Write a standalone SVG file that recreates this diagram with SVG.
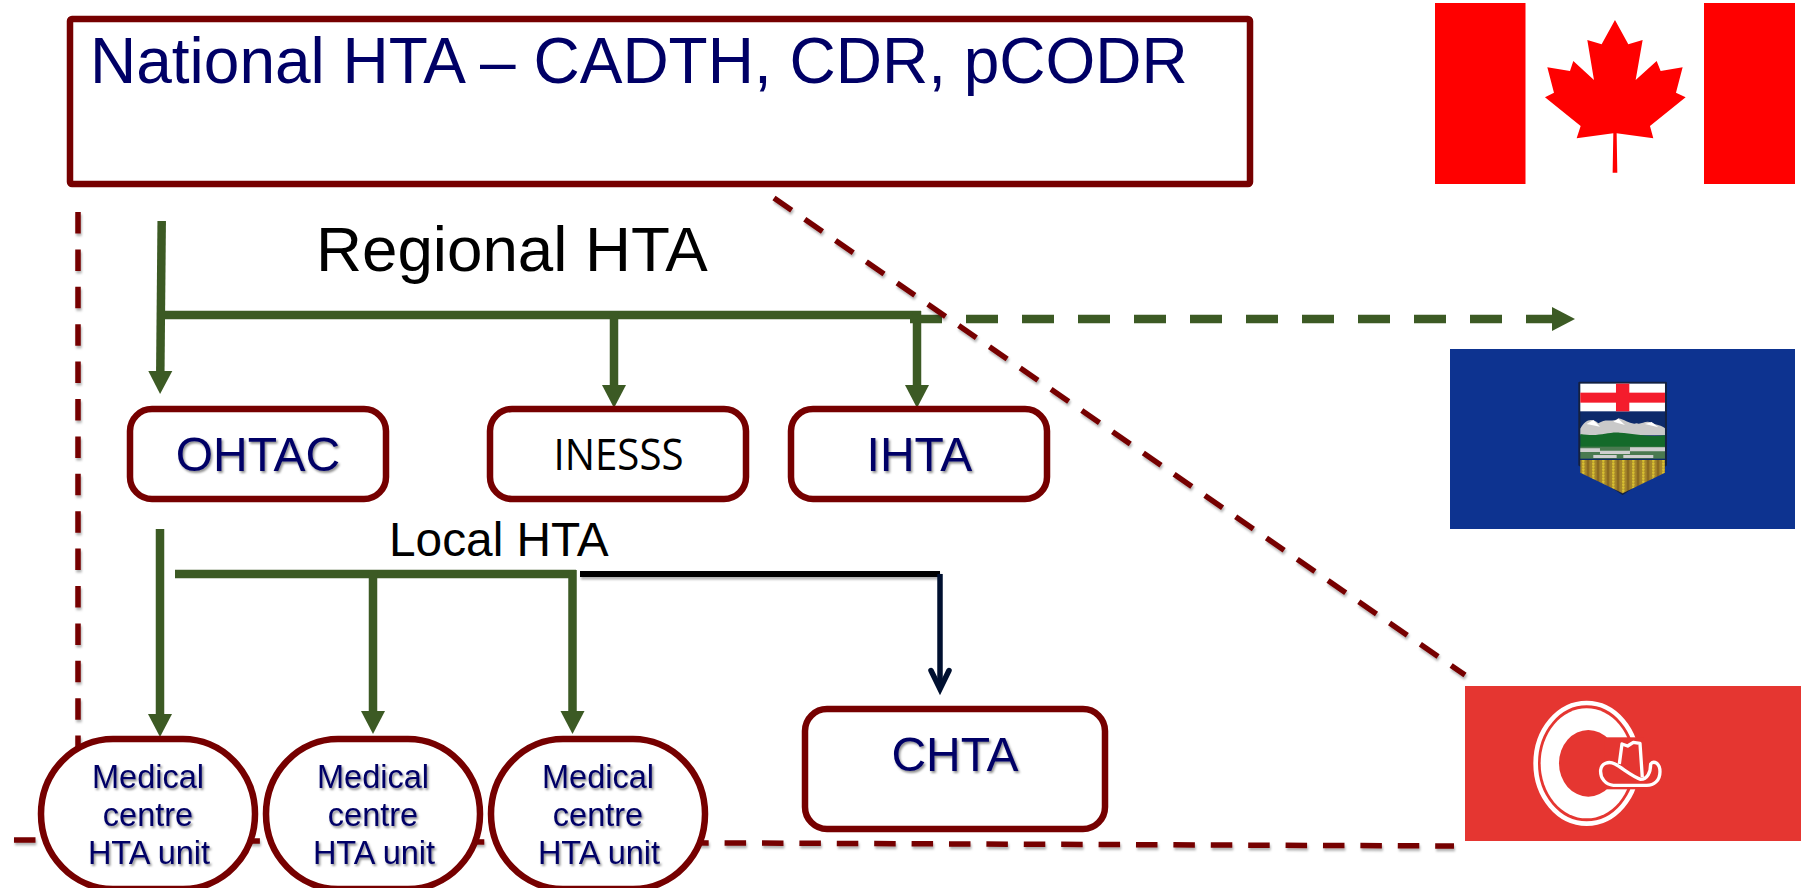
<svg xmlns="http://www.w3.org/2000/svg" width="1801" height="888" viewBox="0 0 1801 888">
  <style>
    text { font-family: "Liberation Sans", Arial, sans-serif; }
    .box { fill: #fff; stroke: #760000; stroke-width: 6.500; }
    .navy { fill: #000066; }
    .sh { filter: url(#textsoft); }
    .m { font-size: 32.500px; text-anchor: middle; }
    .b { font-size: 48px; text-anchor: middle; }
    .g { fill: none; stroke: #3c5a24; stroke-width: 8.500; }
    .d { fill: none; stroke: #760000; stroke-width: 5.500; stroke-dasharray: 21.5 15.9; filter: url(#soft); }
  </style>
  <defs>
    <filter id="soft" x="0" y="0" width="1801" height="888" filterUnits="userSpaceOnUse">
      <feDropShadow dx="1" dy="2.5" stdDeviation="1" flood-color="#000" flood-opacity="0.3"/>
    </filter>
    <filter id="textsoft" x="0" y="0" width="1801" height="888" filterUnits="userSpaceOnUse">
      <feDropShadow dx="1.500" dy="2" stdDeviation="1" flood-color="#000" flood-opacity="0.45"/>
    </filter>
    <marker id="gh" markerUnits="userSpaceOnUse" markerWidth="26" markerHeight="26" refX="1" refY="13" orient="auto">
      <path d="M1,1 L24,13 L1,25 Z" fill="#3c5a24"/>
    </marker>
    <pattern id="wheat" patternUnits="userSpaceOnUse" width="30" height="18">
      <rect width="30" height="18" fill="#a5862a"/>
      <circle cx="10" cy="5" r="4" fill="#d9c030"/>
      <circle cx="10" cy="14" r="4" fill="#d9c030"/>
      <rect x="20" width="8" height="18" fill="#8a6a20"/>
    </pattern>
  </defs>
  <rect width="1801" height="888" fill="#fff"/>

  <g id="connectors">
    <path class="g" d="M161.700,221 L160.300,371" marker-end="url(#gh)"/>
    <path class="g" d="M165,315 H921"/>
    <path class="g" d="M614,311 V385" marker-end="url(#gh)"/>
    <path class="g" d="M917,311 V385" marker-end="url(#gh)"/>
    <path class="g" d="M910,319 H1552" stroke-dasharray="32 24" marker-end="url(#gh)"/>
    <path class="g" d="M160,529 V714" marker-end="url(#gh)"/>
    <path class="g" d="M175,574 H576"/>
    <path class="g" d="M373,570 V711" marker-end="url(#gh)"/>
    <path class="g" d="M572.500,570 V711" marker-end="url(#gh)"/>
    <path d="M580,574 H940" fill="none" stroke="#000" stroke-width="6" filter="url(#soft)"/>
    <path d="M940,574 V688" fill="none" stroke="#001030" stroke-width="5.500"/>
    <path d="M931,670.500 L940,689 L949,670.500" fill="none" stroke="#001030" stroke-width="5.500" stroke-linecap="round"/>
    <path class="d" d="M78,212 V760"/>
    <path class="d" d="M774,198 L1465,675"/>
    <path class="d" d="M14,840 L1454,846"/>
  </g>

  <g id="national-hta">
    <rect class="box" x="70" y="19" width="1180" height="165" rx="2"/>
    <text class="navy" x="90" y="83" font-size="64">National HTA – CADTH, CDR, pCODR</text>
  </g>
  <g id="regional-hta-label"><text x="316" y="271" font-size="63.700" fill="#000">Regional HTA</text></g>
  <g id="local-hta-label"><text x="389" y="556" font-size="47.800" fill="#000">Local HTA</text></g>

  <g id="ohtac">
    <rect class="box" x="130" y="409" width="256" height="90" rx="22"/>
    <text class="navy b sh" x="258" y="471">OHTAC</text>
  </g>
  <g id="inesss">
    <rect class="box" x="490" y="409" width="256" height="90" rx="22"/>
    <text x="618.500" y="470" font-size="44" text-anchor="middle" fill="#000" style="font-family:'Open Sans','Noto Sans',sans-serif" textLength="130" lengthAdjust="spacingAndGlyphs">INESSS</text>
  </g>
  <g id="ihta">
    <rect class="box" x="791" y="409" width="256" height="90" rx="22"/>
    <text class="navy b sh" x="919.500" y="471">IHTA</text>
  </g>
  <g id="chta">
    <rect class="box" x="805" y="709" width="300" height="120" rx="22"/>
    <text class="navy b sh" x="955" y="771">CHTA</text>
  </g>

  <g id="unit-1">
    <rect class="box" x="41" y="739" width="214" height="150" rx="72" ry="75"/>
    <g class="navy m sh"><text x="148" y="788">Medical</text><text x="148" y="826">centre</text><text x="149" y="864">HTA unit</text></g>
  </g>
  <g id="unit-2">
    <rect class="box" x="266" y="739" width="214" height="150" rx="72" ry="75"/>
    <g class="navy m sh"><text x="373" y="788">Medical</text><text x="373" y="826">centre</text><text x="374" y="864">HTA unit</text></g>
  </g>
  <g id="unit-3">
    <rect class="box" x="491" y="739" width="214" height="150" rx="72" ry="75"/>
    <g class="navy m sh"><text x="598" y="788">Medical</text><text x="598" y="826">centre</text><text x="599" y="864">HTA unit</text></g>
  </g>

  <g id="flag-canada">
    <rect x="1435" y="3" width="90.500" height="181" fill="#ff0000"/>
    <rect x="1704" y="3" width="91" height="181" fill="#ff0000"/>
    <path transform="translate(1400,0) scale(0.3333)" fill="#ff0000" d="M645,60 L685,133 L728,120 L707,240 L770,183 L782,213 L848,202 L828,278 L857,292 L750,378 L760,415 L650,400 L652,518 L638,518 L640,400 L530,415 L542,378 L435,292 L462,278 L442,202 L510,213 L520,183 L582,240 L562,120 L605,133 Z"/>
  </g>

  <g id="flag-alberta">
    <rect x="1450" y="349" width="345" height="180" fill="#0d3390"/>
    <g transform="translate(1400,330) scale(0.3333)">
      <path d="M538,158 H798 V405 L668,492 L538,405 Z" fill="#0d2a6a" stroke="#14213f" stroke-width="6" stroke-linejoin="round"/>
      <rect x="541" y="161" width="254" height="83" fill="#fff"/>
      <rect x="541" y="188" width="254" height="30" fill="#f41c2c"/>
      <rect x="648" y="161" width="40" height="83" fill="#f41c2c"/>
      <path d="M541,296 C555,270 575,262 595,280 C620,262 640,280 655,265 C675,268 690,285 710,280 C725,285 735,270 755,278 C770,285 785,285 795,295 V316 H541 Z" fill="#c9c9c9"/>
      <path d="M560,282 L580,270 L600,290 Z M640,275 L655,266 L675,285 Z M735,282 L755,276 L775,292 Z" fill="#fff"/>
      <path d="M541,312 C600,322 620,305 660,308 C700,310 740,322 795,316 V352 H541 Z" fill="#146a2a"/>
      <rect x="541" y="350" width="254" height="36" fill="#4a7a50"/>
      <path d="M541,355 H600 V366 H541 Z M600,362 H690 V372 H600 Z M690,352 H795 V364 H690 Z M580,375 H650 V384 H580 Z M670,375 H760 V384 H670 Z" fill="#cfcfcf"/>
      <path d="M541,390 H795 V428 L668,490 L541,428 Z" fill="url(#wheat)"/>
    </g>
  </g>

  <g id="flag-calgary">
    <rect x="1465" y="686" width="336" height="155" fill="#e53631"/>
    <g transform="translate(1440,660) scale(0.3333)">
      <ellipse cx="440" cy="310" rx="153" ry="181" fill="none" stroke="#fff" stroke-width="14"/>
      <ellipse cx="440" cy="310" rx="138" ry="165" fill="#fff"/>
      <ellipse cx="445" cy="310" rx="88" ry="100" fill="#e53631"/>
      <rect x="495" y="232" width="115" height="156" fill="#e53631"/>
      <path d="M538,312 L546,252 L563,258 L580,247 L600,250 L607,352" fill="#e53631" stroke="#fff" stroke-width="10" stroke-linejoin="round"/>
      <path d="M482,330 C485,310 505,302 525,312 C550,326 575,348 602,358 C622,358 632,338 632,312 C642,300 660,310 660,335 C660,362 642,376 620,376 L520,376 C497,374 480,355 482,330 Z" fill="#e53631" stroke="#fff" stroke-width="10" stroke-linejoin="round"/>
    </g>
  </g>
</svg>
